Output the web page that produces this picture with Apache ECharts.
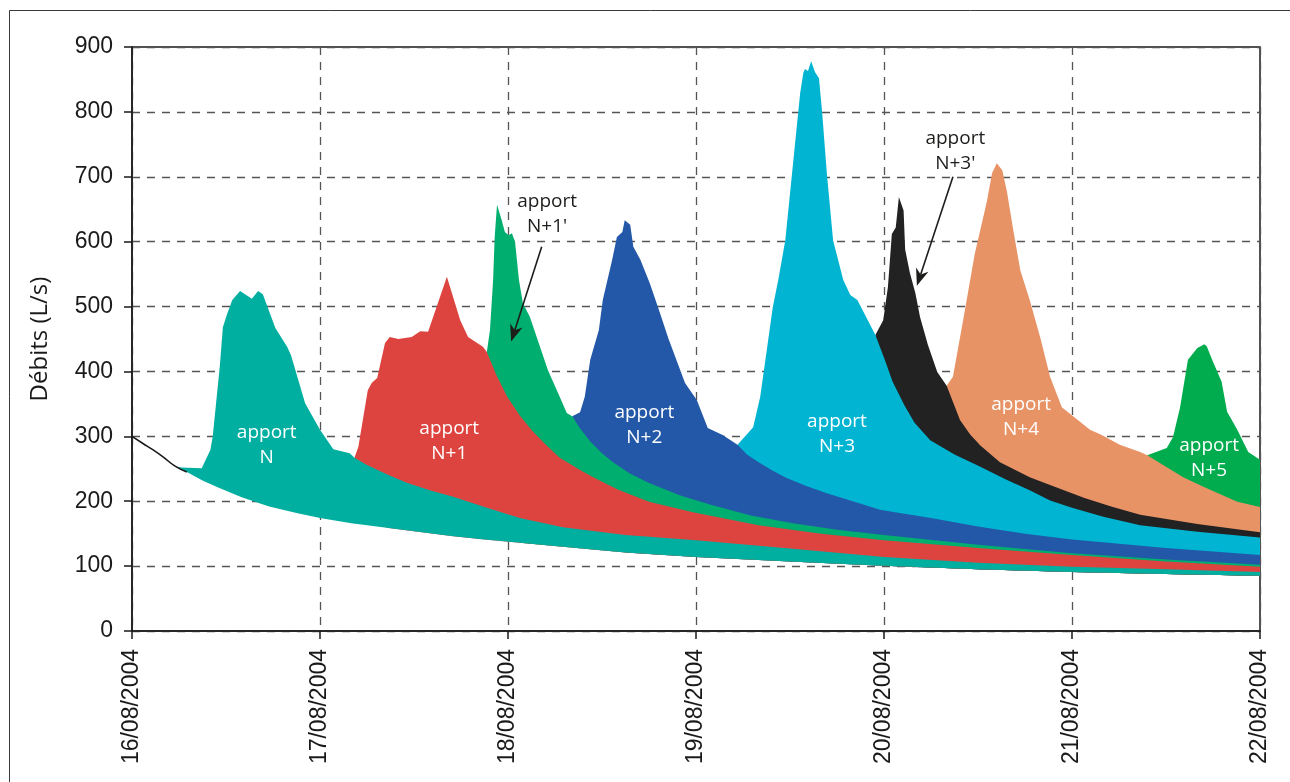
<!DOCTYPE html>
<html>
<head>
<meta charset="utf-8">
<script src="https://cdn.jsdelivr.net/npm/echarts/dist/echarts.min.js"></script>
<style>
html,body{margin:0;padding:0;background:#fff;}
#chart{width:1290px;height:782px;}
</style>
</head>
<body>
<div id="chart"></div>
<script>
// ---- tick labels ----
const dateLabels = ['16/08/2004','17/08/2004','18/08/2004','19/08/2004','20/08/2004','21/08/2004','22/08/2004'];
// x values are hours since 16/08/2004 00:00

// ---- base recession (lower edge of the coloured bands), [hour, L/s] ----
const baseRecession = [[0,300],[1.4,289],[2.7,279],[4,268],[5.5,254],[7,245],[9,232],[11,221],[14,206],[17.5,192],[21,182],[24,174],[28,166],[32.5,159],[37,152],[41,146],[45,141],[49.5,136],[55,130],[63,121],[72,114],[84,107],[96,100.5],[108,95],[120,91],[132,88],[144,85]];

// ---- cumulative upper edge of each contribution, [hour, L/s] ----
const apportN = [[5.5,254],[6.3,252],[8.9,251],[10.0,279],[10.3,299],[11.2,407],[11.6,468],[12.1,487],[12.8,510],[13.8,524],[15.3,512],[16.1,524],[16.7,519],[18.3,467],[19.8,438],[20.3,425],[22.1,351],[24.0,310],[25.7,280],[27.8,274],[28.4,267],
  [30,256],[32.6,241],[35,229],[38,217],[41,207],[45,191],[49.5,174],[55,160],[63,148],[72,140],[84,127],[96,114],[108,105],[120,99],[132,95],[144,91]];
const apportN1 = [[28.4,267],[28.9,284],[30.1,371],[30.6,382],[31.3,390],[32.3,444],[32.9,453],[34.0,450],[35.7,453],[36.8,462],[37.8,461],[40.2,546],[41.9,479],[42.9,453],[44.8,438],[45.3,430],
  [46.5,395],[47.9,361],[49.5,332],[51.2,307],[53,285],[54.6,267],[57.2,248],[59,236],[62,218],[66,199],[71.6,183],[80,163],[88,150],[96,140],[108,128],[120,117],[132,107],[144,99]];
const apportN1b = [[45.3,430],[45.7,464],[46.1,541],[46.3,607],[46.6,657],[47.2,633],[47.6,615],[48.1,610],[48.5,613],[48.9,600],[49.4,541],[49.9,505],[50.8,484],[51.8,448],[53.1,402],[54.6,361],[55.5,336],[56.2,331],
  [57.2,312],[58.5,292],[60,274],[61.4,260],[63.5,243],[66,228],[70,209],[74,194],[79,178],[84.4,166],[90,156],[96,148],[108,133],[120,120],[132,110],[144,102]];
const apportN2 = [[56.2,331],[57.2,337],[57.8,361],[58.5,418],[59.6,464],[60.1,510],[61.3,572],[61.9,607],[62.6,615],[62.9,633],[63.6,626],[64.0,592],[64.9,572],[66.1,536],[67.4,490],[68.5,450],[70.6,382],[72.1,356],[73.5,313],[75.4,302],[77.3,287],
  [78.5,272],[80,260],[81.8,247],[83.5,236],[86,224],[88.5,213],[92,200],[95.5,187],[98,182],[102,174],[108,161],[114,150],[120,141],[132,128],[144,117]];
const apportN3 = [[77.3,287],[79.3,314],[80.2,361],[81.8,499],[82.5,541],[83.4,602],[85.3,829],[85.7,860],[85.9,866],[86.3,863],[86.7,878],[87.2,861],[87.7,852],[88.1,800],[88.7,706],[89.5,602],[90.8,541],[91.7,518],[92.6,510],[94.9,456],
  [96.1,418],[97.1,384],[98.6,348],[99.9,321],[101.9,294],[105,272],[108.3,253],[111.5,234],[114.6,217],[117.2,201],[120,190],[124,176],[128.7,163],[136,153],[144,144]];
const apportN3b = [[94.9,456],[95.9,479],[96.5,530],[97.0,612],[97.5,622],[97.9,669],[98.5,648],[98.7,588],[99.3,552],[100.0,521],[100.6,484],[101.6,441],[102.8,399],[104.0,378],
  [105.7,325],[107,303],[108.3,286],[110.8,260],[114.6,237],[117.2,225],[121.6,205],[125,192],[128.7,179],[136,165],[144,152]];
const apportN4 = [[104.0,378],[104.8,392],[106.1,479],[107.6,582],[109.1,660],[109.8,706],[110.4,721],[111.1,710],[111.7,677],[112.5,618],[113.4,556],[114.6,510],[116,450],[117.2,392],[118.7,345],[122.3,310],[123.8,302],[126.1,287],[128.7,276],[129.6,271],
  [132,253],[134.2,237],[136.5,224],[138.5,213],[141.1,199],[144,191]];
const apportN5 = [[129.6,271],[132.1,282],[132.9,299],[133.8,345],[134.8,418],[136.0,436],[136.9,442],[137.2,439],[138.0,415],[139.1,384],[139.8,338],[141.1,310],[142.5,276],[144,264]];

// ---- annotation texts ----
const labelTexts = ['apport\nN','apport\nN+1','apport\nN+2','apport\nN+3','apport\nN+4','apport\nN+5',"apport\nN+1'","apport\nN+3'"];

// ---- styling / placement (not data) ----
const layerDefs = [
  {name:'apport N+5', data: apportN5,  color:'#00AC4E'},
  {name:'apport N+4', data: apportN4,  color:'#E89366'},
  {name:"apport N+3'",data: apportN3b, color:'#222222'},
  {name:'apport N+3', data: apportN3,  color:'#00B4D2'},
  {name:'apport N+2', data: apportN2,  color:'#2358A8'},
  {name:"apport N+1'",data: apportN1b, color:'#00AE6F'},
  {name:'apport N+1', data: apportN1,  color:'#DD4440'},
  {name:'apport N',   data: apportN,   color:'#00AFA0'}
];
const labelAnchors = [[17.2,287],[40.5,292],[65.4,318],[90.0,303],[113.5,329],[137.5,266],[53.0,642],[105.1,739]];
const labelColors = ['#ffffff','#ffffff','#ffffff','#ffffff','#ffffff','#ffffff','#1d1d1b','#1d1d1b'];
const arrowStarts = [[52.3,592],[104.8,700]];
const arrowEnds   = [[48.4,446],[100.2,532]];

const chart = echarts.init(document.getElementById('chart'), null, {renderer:'canvas'});

const layerSeries = layerDefs.map(L => ({
  type:'custom',
  name:L.name,
  coordinateSystem:'cartesian2d',
  data:L.data,
  encode:{x:0,y:1},
  silent:true,
  clip:true,
  renderItem:function(params, api){
    if (params.dataIndex !== 0) return null;
    const s = L.data[0][0];
    const top = L.data.map(p => api.coord(p));
    const bot = baseRecession.filter(p => p[0] > s).slice().reverse().map(p => api.coord(p));
    return {type:'polygon', shape:{points: top.concat(bot)}, style:{fill:L.color, stroke:null}};
  }
}));

const option = {
  animation:false,
  backgroundColor:'#ffffff',
  graphic:[{
    type:'rect', left:7, top:8, shape:{x:0,y:0,width:1320,height:800},
    style:{fill:'none', stroke:'#3a3a3a', lineWidth:1}, silent:true, z:-10
  }],
  grid:{left:132, right:30, top:47, bottom:151, show:true, borderColor:'#1a1a1a', borderWidth:1.5, backgroundColor:'transparent'},
  xAxis:{
    type:'value', min:0, max:144, interval:24,
    axisLine:{show:true, onZero:false, lineStyle:{color:'#1a1a1a', width:1.5}},
    axisTick:{show:true, length:8, lineStyle:{color:'#1a1a1a', width:1.5}},
    axisLabel:{
      formatter:v => dateLabels[Math.round(v/24)],
      rotate:90, margin:18, fontFamily:'Liberation Sans', fontSize:23, color:'#1a1a1a'
    },
    splitLine:{show:true, lineStyle:{type:[8,7], color:'#555555', width:1.3}}
  },
  yAxis:{
    type:'value', min:0, max:900, interval:100,
    name:'Débits (L/s)', nameLocation:'middle', nameGap:80,
    nameTextStyle:{fontFamily:'Open Sans', fontSize:24, color:'#1a1a1a'},
    axisLine:{show:true, lineStyle:{color:'#1a1a1a', width:1.5}},
    axisTick:{show:true, length:8, lineStyle:{color:'#1a1a1a', width:1.5}},
    axisLabel:{margin:19, fontFamily:'Liberation Sans', fontSize:23, color:'#1a1a1a'},
    splitLine:{show:true, lineStyle:{type:[8,7], color:'#555555', width:1.3}}
  },
  series: layerSeries.concat([
    {
      type:'line', name:'recession', data: baseRecession.filter(p => p[0] <= 7),
      smooth:true, symbol:'none', silent:true,
      lineStyle:{color:'#1a1a1a', width:1.6}, z:5
    },
    {
      type:'custom', name:'labels', coordinateSystem:'cartesian2d', silent:true, z:6,
      data: labelAnchors, encode:{x:0,y:1},
      renderItem:function(params, api){
        const p = api.coord([api.value(0), api.value(1)]);
        return {type:'text', x:p[0], y:p[1], style:{
          text:labelTexts[params.dataIndex], fill:labelColors[params.dataIndex],
          fontFamily:'Open Sans', fontSize:19, lineHeight:25, align:'center', verticalAlign:'middle'
        }};
      }
    },
    {
      type:'custom', name:'arrows', coordinateSystem:'cartesian2d', silent:true, z:6,
      data: arrowStarts, encode:{x:0,y:1},
      renderItem:function(params, api){
        const a = api.coord(arrowStarts[params.dataIndex]);
        const b = api.coord(arrowEnds[params.dataIndex]);
        const dx = b[0]-a[0], dy = b[1]-a[1], len = Math.hypot(dx,dy);
        const ux = dx/len, uy = dy/len, nx = -uy, ny = ux;
        const L = 17, W = 6.5, notch = 12;
        const base = [b[0]-ux*L, b[1]-uy*L];
        const inner = [b[0]-ux*notch, b[1]-uy*notch];
        return {type:'group', children:[
          {type:'line', shape:{x1:a[0], y1:a[1], x2:inner[0], y2:inner[1]}, style:{stroke:'#1d1d1b', lineWidth:1.6}},
          {type:'polygon', shape:{points:[b, [base[0]+nx*W, base[1]+ny*W], inner, [base[0]-nx*W, base[1]-ny*W]]}, style:{fill:'#1d1d1b'}}
        ]};
      }
    }
  ])
};
chart.setOption(option);
</script>
</body>
</html>
